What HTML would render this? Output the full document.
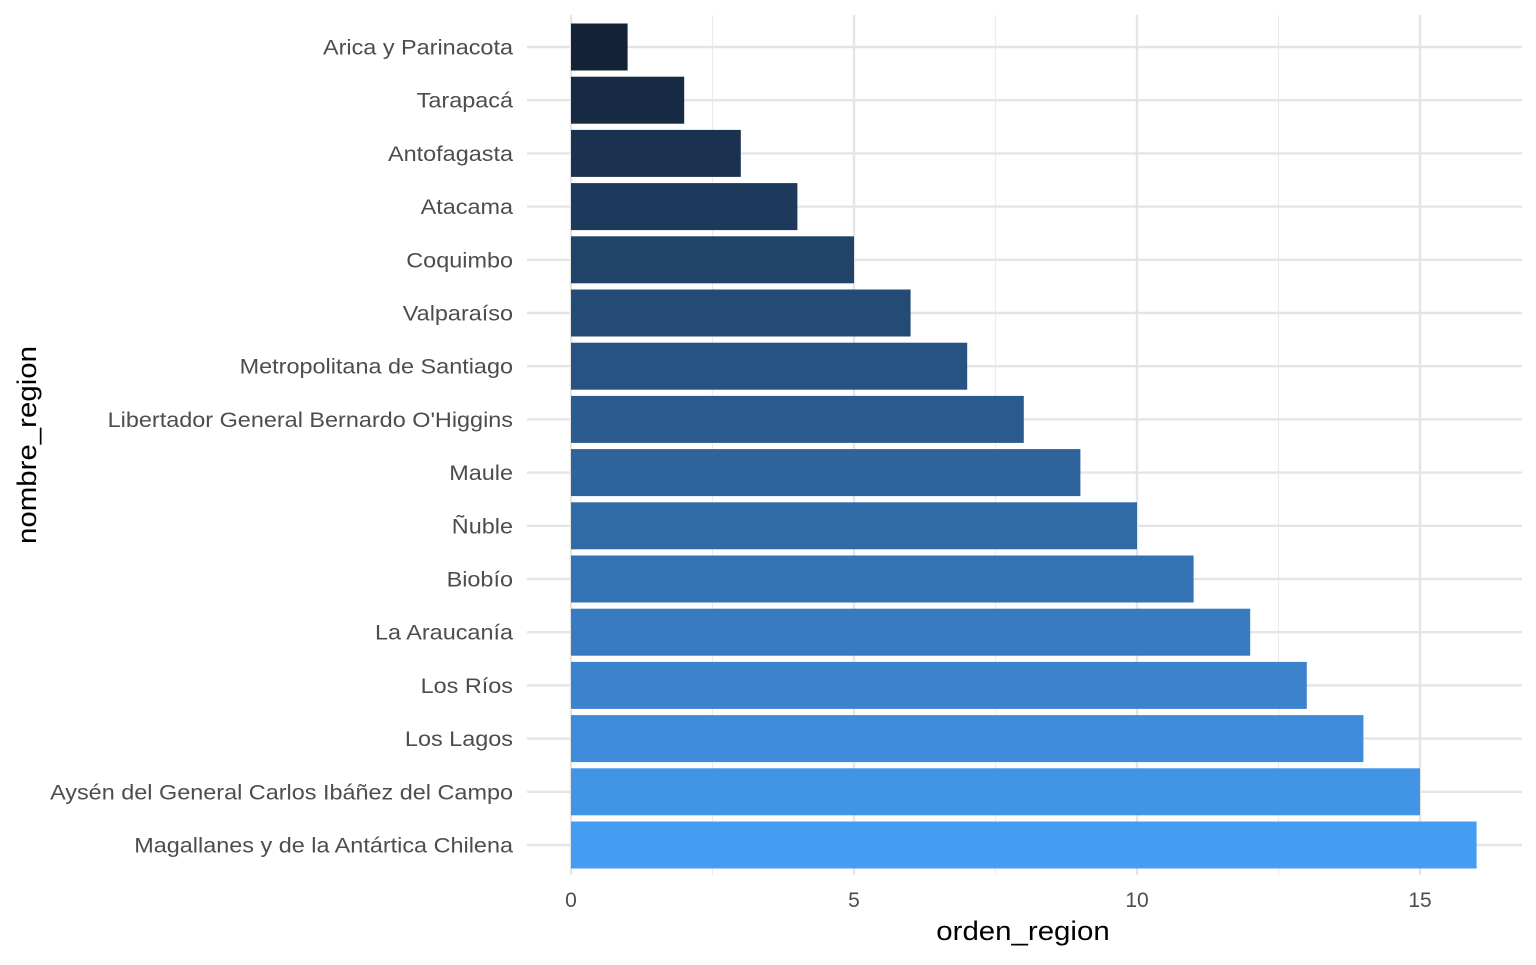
<!DOCTYPE html>
<html><head><meta charset="utf-8"><style>
html,body{margin:0;padding:0;background:#fff;}
svg text{font-family:"Liberation Sans",Arial,sans-serif;}
</style></head><body>
<svg width="1536" height="960" viewBox="0 0 1536 960" xmlns="http://www.w3.org/2000/svg">
<rect width="1536" height="960" fill="#fff"/>
<g stroke="#ebebeb" stroke-width="1.2">
<line x1="712.5" y1="15" x2="712.5" y2="875"/>
<line x1="995.5" y1="15" x2="995.5" y2="875"/>
<line x1="1278.5" y1="15" x2="1278.5" y2="875"/>
</g>
<g stroke="#e5e5e5" stroke-width="2.4">
<line x1="571" y1="15" x2="571" y2="875"/>
<line x1="854" y1="15" x2="854" y2="875"/>
<line x1="1137" y1="15" x2="1137" y2="875"/>
<line x1="1420" y1="15" x2="1420" y2="875"/>
<line x1="527" y1="47" x2="1522" y2="47"/>
<line x1="527" y1="100.2" x2="1522" y2="100.2"/>
<line x1="527" y1="153.4" x2="1522" y2="153.4"/>
<line x1="527" y1="206.6" x2="1522" y2="206.6"/>
<line x1="527" y1="259.8" x2="1522" y2="259.8"/>
<line x1="527" y1="313" x2="1522" y2="313"/>
<line x1="527" y1="366.2" x2="1522" y2="366.2"/>
<line x1="527" y1="419.4" x2="1522" y2="419.4"/>
<line x1="527" y1="472.6" x2="1522" y2="472.6"/>
<line x1="527" y1="525.8" x2="1522" y2="525.8"/>
<line x1="527" y1="579" x2="1522" y2="579"/>
<line x1="527" y1="632.2" x2="1522" y2="632.2"/>
<line x1="527" y1="685.4" x2="1522" y2="685.4"/>
<line x1="527" y1="738.6" x2="1522" y2="738.6"/>
<line x1="527" y1="791.8" x2="1522" y2="791.8"/>
<line x1="527" y1="845" x2="1522" y2="845"/>
</g>
<g>
<rect x="571" y="23.5" width="56.6" height="47" fill="#132236"/>
<rect x="571" y="76.7" width="113.2" height="47" fill="#162A43"/>
<rect x="571" y="129.9" width="169.8" height="47" fill="#1A324F"/>
<rect x="571" y="183.1" width="226.4" height="47" fill="#1D3A5C"/>
<rect x="571" y="236.3" width="283" height="47" fill="#204368"/>
<rect x="571" y="289.5" width="339.6" height="47" fill="#244B75"/>
<rect x="571" y="342.7" width="396.2" height="47" fill="#275382"/>
<rect x="571" y="395.9" width="452.8" height="47" fill="#2A5B8E"/>
<rect x="571" y="449.1" width="509.4" height="47" fill="#2E639B"/>
<rect x="571" y="502.3" width="566" height="47" fill="#316BA7"/>
<rect x="571" y="555.5" width="622.6" height="47" fill="#3473B4"/>
<rect x="571" y="608.7" width="679.2" height="47" fill="#387BC1"/>
<rect x="571" y="661.9" width="735.8" height="47" fill="#3B84CD"/>
<rect x="571" y="715.1" width="792.4" height="47" fill="#3E8CDA"/>
<rect x="571" y="768.3" width="849" height="47" fill="#4294E6"/>
<rect x="571" y="821.5" width="905.6" height="47" fill="#459CF3"/>
</g>
<g font-size="21.5" fill="#4d4d4d" text-anchor="end" transform="translate(513,0) scale(1.09,1) translate(-513,0)">
<text x="513" y="54.5">Arica y Parinacota</text>
<text x="513" y="107.7">Tarapacá</text>
<text x="513" y="160.9">Antofagasta</text>
<text x="513" y="214.1">Atacama</text>
<text x="513" y="267.3">Coquimbo</text>
<text x="513" y="320.5">Valparaíso</text>
<text x="513" y="373.7">Metropolitana de Santiago</text>
<text x="513" y="426.9">Libertador General Bernardo O'Higgins</text>
<text x="513" y="480.1">Maule</text>
<text x="513" y="533.3">Ñuble</text>
<text x="513" y="586.5">Biobío</text>
<text x="513" y="639.7">La Araucanía</text>
<text x="513" y="692.9">Los Ríos</text>
<text x="513" y="746.1">Los Lagos</text>
<text x="513" y="799.3">Aysén del General Carlos Ibáñez del Campo</text>
<text x="513" y="852.5">Magallanes y de la Antártica Chilena</text>
</g>
<g font-size="21" fill="#4d4d4d" text-anchor="middle">
<text x="571" y="907">0</text>
<text x="854" y="907">5</text>
<text x="1137" y="907">10</text>
<text x="1420" y="907">15</text>
</g>
<text x="1023" y="940" font-size="27" fill="#000" text-anchor="middle" transform="translate(1023,0) scale(1.09,1) translate(-1023,0)">orden_region</text>
<text transform="translate(36,445) rotate(-90) scale(1.09,1)" font-size="27" fill="#000" text-anchor="middle">nombre_region</text>
</svg>
</body></html>
